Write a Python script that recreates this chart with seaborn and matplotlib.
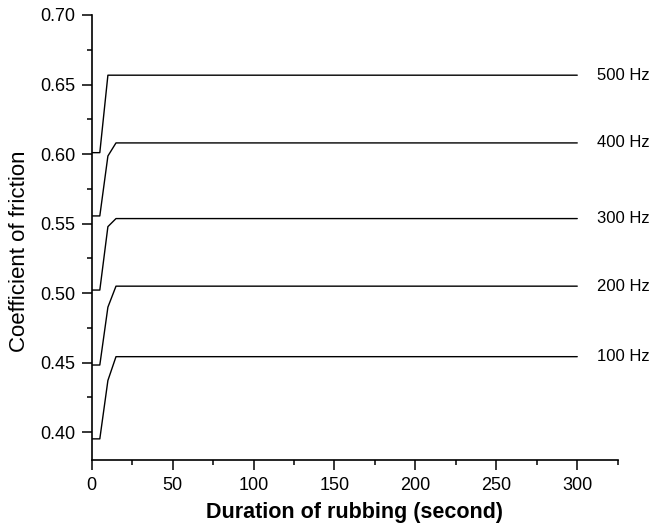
import numpy as np
import pandas as pd
import matplotlib
matplotlib.use("Agg")
import matplotlib.pyplot as plt
from matplotlib.ticker import MultipleLocator, FormatStrFormatter
import seaborn as sns

# Friction coefficient vs. rubbing time for each vibration frequency
time_s = [0, 5, 10, 15, 300]
frequencies = ["100 Hz", "200 Hz", "300 Hz", "400 Hz", "500 Hz"]
cof_100 = [0.3952, 0.3952, 0.4372, 0.4543, 0.4543]
cof_200 = [0.4483, 0.4483, 0.4899, 0.5050, 0.5050]
cof_300 = [0.5022, 0.5022, 0.5478, 0.5536, 0.5536]
cof_400 = [0.5555, 0.5555, 0.5986, 0.6080, 0.6080]
cof_500 = [0.6010, 0.6010, 0.6567, 0.6567, 0.6567]

series = [cof_100, cof_200, cof_300, cof_400, cof_500]
df = pd.concat(
    [pd.DataFrame({"time": time_s, "cof": vals, "freq": f})
     for f, vals in zip(frequencies, series)],
    ignore_index=True,
)

sns.set_theme(style="ticks")
plt.rcParams["font.family"] = ["Liberation Sans", "DejaVu Sans"]

fig = plt.figure(figsize=(6.57, 5.31), dpi=100)
ax = fig.add_axes([0.1396, 0.1337, 0.8006, 0.8381])

sns.lineplot(
    data=df, x="time", y="cof", hue="freq",
    palette=["black"] * len(frequencies),
    estimator=None, sort=False, linewidth=1.0, legend=False, ax=ax,
)

# Frequency labels at the right end of each curve
for f, vals in zip(frequencies, series):
    ax.text(312, vals[-1], f, ha="left", va="center", fontsize=12, color="black")

ax.set_xlim(0, 325)
ax.set_ylim(0.38, 0.70)
ax.xaxis.set_major_locator(MultipleLocator(50))
ax.xaxis.set_minor_locator(MultipleLocator(25))
ax.yaxis.set_major_locator(MultipleLocator(0.05))
ax.yaxis.set_minor_locator(MultipleLocator(0.025))
ax.yaxis.set_major_formatter(FormatStrFormatter("%.2f"))

ax.tick_params(which="major", direction="out", length=7, width=1.1,
               labelsize=13, pad=5, color="black", labelcolor="black")
ax.tick_params(which="minor", direction="out", length=3.8, width=1.1, color="black")

for side in ("top", "right"):
    ax.spines[side].set_visible(False)
for side in ("left", "bottom"):
    ax.spines[side].set_linewidth(1.2)
    ax.spines[side].set_color("black")

ax.set_xlabel("Duration of rubbing (second)", fontsize=15.5, fontweight="bold",
              labelpad=6, color="black")
ax.set_ylabel("Coefficient of friction", fontsize=16, labelpad=7, color="black")
ax.yaxis.label.set_y(0.468)

fig.savefig("out.png", dpi=100)
